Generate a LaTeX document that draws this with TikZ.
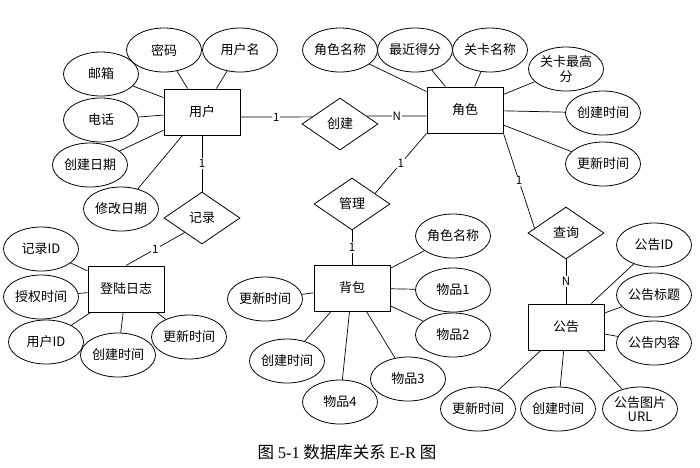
\documentclass[tikz,border=0pt]{standalone}
\usepackage{fontspec}
\setmainfont{Noto Sans CJK SC}
\newfontfamily\capserif{Liberation Serif}
\usetikzlibrary{shapes.geometric,calc}
\begin{document}
\begin{tikzpicture}[x=1pt,y=-1pt,
  lbl/.style={font=\fontsize{13}{14.5}\selectfont},
  ent/.style={draw,lbl,line width=1pt,minimum width=76pt,minimum height=46pt,inner sep=0pt},
  attr/.style={draw,ellipse,lbl,line width=0.8pt,minimum width=75pt,minimum height=44pt,inner sep=0pt,align=center,fill=white},
  rel/.style={draw,diamond,lbl,line width=0.8pt,minimum width=76pt,minimum height=52pt,inner sep=0pt},
  conn/.style={line width=0.7pt},
  card/.style={fill=white,inner sep=1pt,font=\fontsize{11.5}{12}\selectfont}]
\fill[white] (0,0) rectangle (700,467);
\useasboundingbox (0,0) rectangle (700,467);

% entities
\node[ent] (yh) at (202,112) {用户};
\node[ent] (js) at (465,110) {角色};
\node[ent] (dl) at (126,289) {登陆日志};
\node[ent] (bb) at (352,288) {背包};
\node[ent] (gg) at (566,327) {公告};

% relationships
\node[rel] (cj) at (340,124) {创建};
\node[rel] (jl) at (202,218) {记录};
\node[rel] (gl) at (352,204) {管理};
\node[rel] (cx) at (566,233) {查询};

% attribute connectors and attributes
\foreach \n/\x/\y/\t/\e in {
  mm/164/50/密码/yh, yhm/240/50/用户名/yh, yx/101/74/邮箱/yh, dh/101/120/电话/yh,
  cjrq/90/165/创建日期/yh, xgrq/121/209/修改日期/yh,
  jsmc/340/50/角色名称/js, zjdf/415/50/最近得分/js, gkmc/490/50/关卡名称/js,
  gkzg/566/69/{关卡最高\\分}/js, jscj/603/113/创建时间/js, jsgx/603/164/更新时间/js,
  jlid/41/249/记录ID/dl, sqsj/41/297/授权时间/dl, yhid/46/342/用户ID/dl,
  dlcj/118/355/创建时间/dl, dlgx/189/337/更新时间/dl,
  bbjs/453/236/角色名称/bb, wpa/453/290/物品1/bb, wpb/453/335/物品2/bb,
  wpc/408/379/物品3/bb, wpd/340/402/物品4/bb, bbcj/287/361/创建时间/bb, bbgx/265/299/更新时间/bb,
  ggid/654/245/公告ID/gg, ggbt/654/295/公告标题/gg, ggnr/654/343/公告内容/gg,
  gggx/478/409/更新时间/gg, ggcj/558/409/创建时间/gg, ggurl/640/409/{公告图片\\URL}/gg}
{
  \node[attr] (\n) at (\x,\y) {\t};
  \draw[conn] (\n) -- (\e);
}

% relationship connectors
\draw[conn] ($(yh.east)+(0,5)$) -- node[card,midway] {1} ($(cj.west)!0.27!(cj.north)$);
\draw[conn] ($(cj.east)!0.3!(cj.north)$) -- node[card,midway] {N} ($(js.west)+(0,6)$);
\draw[conn] (yh) -- node[card,midway] {1} (jl);
\draw[conn] ($(jl.west)!0.55!(jl.south)$) -- node[card,midway] {1} (dl.north);
\draw[conn] (js.south west) -- node[card,midway] {1} ($(gl.north)!0.6!(gl.east)$);
\draw[conn] (gl) -- node[card,midway] {1} (bb);
\draw[conn] (js.south east) -- node[card,midway] {1} ($(cx.west)!0.18!(cx.north)$);
\draw[conn] (cx) -- node[card,midway] {N} (gg);

% caption
\node[font=\fontsize{16.5}{18}\selectfont] (cap) at (347,452) {图 {\capserif 5-1} 数据库关系 {\capserif E-R} 图};
\end{tikzpicture}
\end{document}
